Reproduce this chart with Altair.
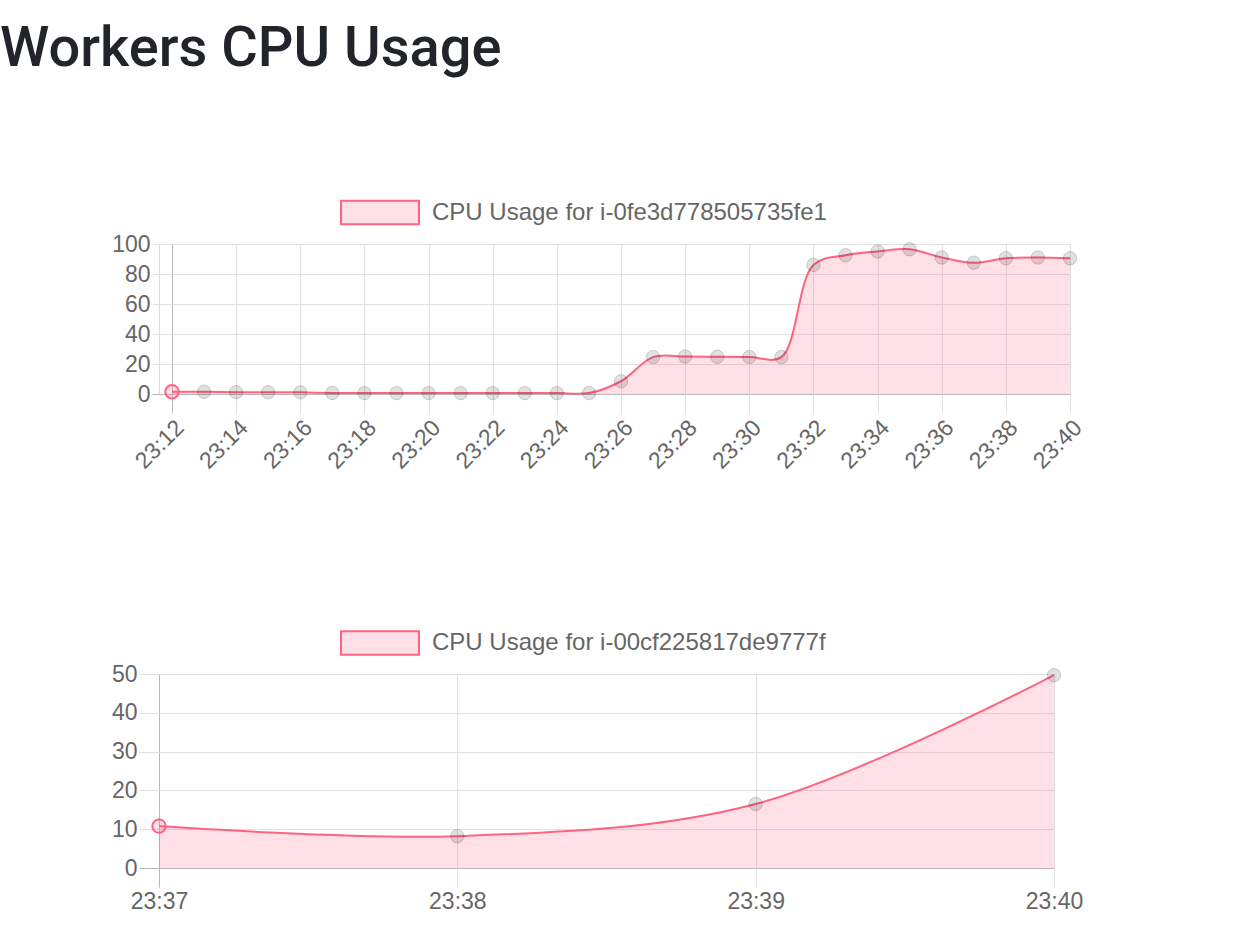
import altair as alt
import pandas as pd

# ---------------- data ----------------
page_title = "Workers CPU Usage"

top_label = "CPU Usage for i-0fe3d778505735fe1"
top_times = ["23:12", "23:13", "23:14", "23:15", "23:16", "23:17", "23:18", "23:19",
             "23:20", "23:21", "23:22", "23:23", "23:24", "23:25", "23:26", "23:27",
             "23:28", "23:29", "23:30", "23:31", "23:32", "23:33", "23:34", "23:35",
             "23:36", "23:37", "23:38", "23:39", "23:40"]
top_values = [1.5, 1.5, 1.2, 1.2, 1.1, 0.7, 0.6, 0.6,
              0.6, 0.6, 0.6, 0.6, 0.6, 0.6, 8.5, 24.6,
              25.0, 24.8, 24.6, 24.6, 86.0, 92.5, 95.0, 96.5,
              91.0, 87.5, 90.5, 91.0, 90.5]
top_x_ticks = ["23:12", "23:14", "23:16", "23:18", "23:20", "23:22", "23:24", "23:26",
               "23:28", "23:30", "23:32", "23:34", "23:36", "23:38", "23:40"]
top_y_ticks = [0, 20, 40, 60, 80, 100]

bottom_label = "CPU Usage for i-00cf225817de9777f"
bottom_times = ["23:37", "23:38", "23:39", "23:40"]
bottom_values = [10.8, 8.2, 16.5, 49.7]
bottom_x_ticks = ["23:37", "23:38", "23:39", "23:40"]
bottom_y_ticks = [0, 10, 20, 30, 40, 50]

# ---------------- style ----------------
FONT = "Liberation Sans"
PINK = "rgb(255,99,132)"
PINK_FILL = "rgba(255,99,132,0.2)"
GRID = "#e0e0e0"
ZERO = "#b8b8b8"
TEXT = "#666666"
DOT_FILL = "rgba(0,0,0,0.12)"
DOT_STROKE = "rgba(0,0,0,0.16)"

LABEL_EXPR = ("floor(datum.value/60) + ':' + "
              "(datum.value % 60 < 10 ? '0' : '') + (datum.value % 60)")


def to_min(t):
    h, m = t.split(":")
    return int(h) * 60 + int(m)


def panel(label, times, values, xticks, yticks, width, height, xrange,
          yoffset, angle, legend_y):
    df = pd.DataFrame({
        "minute": [to_min(t) for t in times],
        "cpu": values,
        "series": label,
    })
    df["first"] = df.index == 0
    xt = [to_min(t) for t in xticks]
    scale_kw = dict(domain=[min(df.minute), max(df.minute)], nice=False, zero=False)
    if xrange is not None:
        scale_kw["range"] = xrange
    x_scale = alt.Scale(**scale_kw)
    x_axis = alt.Axis(
        values=xt, labelExpr=LABEL_EXPR, labelAngle=angle, title=None,
        grid=True, domain=False,
        gridColor={"condition": {"test": f"datum.value === {xt[0]}", "value": ZERO}, "value": GRID},
        tickColor={"condition": {"test": f"datum.value === {xt[0]}", "value": ZERO}, "value": GRID},
        tickSize=19, labelFont=FONT, labelFontSize=23, labelColor=TEXT,
        labelPadding=3, labelOverlap=False, labelFlush=False, gridWidth=1,
    )
    y_axis = alt.Axis(
        values=yticks, title=None, grid=True, domain=False, offset=yoffset,
        gridColor={"condition": {"test": "datum.value === 0", "value": ZERO}, "value": GRID},
        tickColor={"condition": {"test": "datum.value === 0", "value": ZERO}, "value": GRID},
        tickSize=20, labelFont=FONT, labelFontSize=23, labelColor=TEXT,
        labelPadding=2, labelFlush=False,
    )
    y_scale = alt.Scale(domain=[min(yticks), max(yticks)], nice=False)
    x = alt.X("minute:Q", scale=x_scale, axis=x_axis)
    y = alt.Y("cpu:Q", scale=y_scale, axis=y_axis)
    base = alt.Chart(df)
    area = base.mark_area(interpolate="catmull-rom").encode(
        x=x, y=y,
        fill=alt.Fill("series:N", scale=alt.Scale(domain=[label], range=[PINK_FILL]),
                      legend=alt.Legend(
                          orient="none", legendX=181, legendY=legend_y, title=None,
                          symbolType="M-1,-0.3H1V0.3H-1Z", symbolSize=6084,
                          symbolStrokeColor=PINK, symbolStrokeWidth=2,
                          symbolFillColor=PINK_FILL, symbolOpacity=1,
                          labelFont=FONT, labelFontSize=24, labelColor=TEXT,
                          labelOffset=12, padding=0, labelLimit=0)),
    )
    line = base.mark_line(interpolate="catmull-rom", color=PINK, strokeWidth=2).encode(x=x, y=y)
    dots = base.mark_circle(size=180, opacity=1).encode(
        x=x, y=y,
        fill=alt.condition("datum.first", alt.value(PINK_FILL), alt.value(DOT_FILL)),
        stroke=alt.condition("datum.first", alt.value(PINK), alt.value(DOT_STROKE)),
        strokeWidth=alt.condition("datum.first", alt.value(2), alt.value(1)),
    )
    return alt.layer(area, line, dots).properties(width=width, height=height)


top = panel(top_label, top_times, top_values, top_x_ticks, top_y_ticks,
            width=911, height=150, xrange=[13, 911], yoffset=-13, angle=315, legend_y=-71.5)
bottom = panel(bottom_label, bottom_times, bottom_values, bottom_x_ticks, bottom_y_ticks,
               width=895, height=194, xrange=None, yoffset=0, angle=0, legend_y=-71)

chart = alt.vconcat(top, bottom, spacing=128).resolve_scale(fill="independent").properties(
    title=alt.TitleParams(page_title, anchor="start", frame="group", dx=-159,
                          fontSize=56, font="Roboto", fontWeight=500, color="#212529",
                          offset=94.5),
    padding={"left": 0, "top": 20, "right": 0, "bottom": 0},
).configure_view(stroke=None).configure(background="white")

chart.save("out.html", embed_options={"renderer": "svg", "actions": False})
